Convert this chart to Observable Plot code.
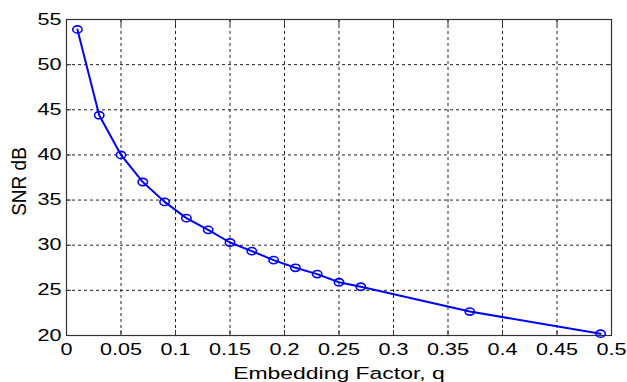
<!DOCTYPE html>
<html><head><meta charset="utf-8">
<script src="https://cdn.jsdelivr.net/npm/d3@7"></script>
<script src="https://cdn.jsdelivr.net/npm/@observablehq/plot@0.6"></script>
<style>body{margin:0;background:#fff} svg{display:block}</style>
</head><body><div id="chart"></div>
<script>
const q = [0.01, 0.03, 0.05, 0.07, 0.09, 0.11, 0.13, 0.15, 0.17, 0.19, 0.21, 0.23, 0.25, 0.27, 0.37, 0.49];
const snr = [53.9, 44.4, 40.0, 37.0, 34.8, 33.0, 31.7, 30.3, 29.35, 28.35, 27.5, 26.8, 25.9, 25.4, 22.65, 20.2];
const xTicks = [0, 0.05, 0.1, 0.15, 0.2, 0.25, 0.3, 0.35, 0.4, 0.45, 0.5];
const yTicks = [20, 25, 30, 35, 40, 45, 50, 55];
const xLabel = "Embedding Factor, q";
const yLabel = "SNR dB";

const data = q.map((x, i) => ({q: x, snr: snr[i]}));
const gridStyle = {stroke: "#222", strokeOpacity: 1, strokeWidth: 1, strokeDasharray: "3,3"};
const noText = () => "";

const chart = Plot.plot({
  width: 627, height: 382,
  marginLeft: 66, marginRight: 16, marginTop: 19, marginBottom: 47,
  style: {fontFamily: "Liberation Sans, Arial, sans-serif", fontSize: "16px", color: "#000", background: "#fff"},
  x: {domain: [0, 0.5]},
  y: {domain: [20, 55]},
  marks: [
    Plot.gridX(xTicks, gridStyle),
    Plot.gridY(yTicks, gridStyle),
    Plot.axisX(xTicks, {anchor: "bottom", tickSize: -5, tickFormat: noText, label: null, stroke: "#333"}),
    Plot.axisX(xTicks, {anchor: "top", tickSize: -5, tickFormat: noText, label: null, stroke: "#333"}),
    Plot.axisY(yTicks, {anchor: "left", tickSize: -5, tickFormat: noText, label: null, stroke: "#333"}),
    Plot.axisY(yTicks, {anchor: "right", tickSize: -5, tickFormat: noText, label: null, stroke: "#333"}),
    Plot.frame({stroke: "#333", strokeWidth: 1.2}),
    Plot.axisX(xTicks, {tickSize: 0, tickPadding: 8, tickFormat: d => `${d}`, label: null, fontSize: 16}),
    Plot.axisY(yTicks, {tickSize: 0, tickPadding: 5, tickFormat: d => `${d}`, label: null, fontSize: 16}),
    Plot.text([xLabel], {frameAnchor: "bottom", dy: 38, textAnchor: "middle", lineAnchor: "middle", fontSize: 17, text: d => d}),
    Plot.text([yLabel], {frameAnchor: "left", dx: -47, dy: 4, rotate: -90, textAnchor: "middle", lineAnchor: "middle", fontSize: 17, text: d => d}),
    Plot.line(data, {x: "q", y: "snr", stroke: "#0000ff", strokeWidth: 2}),
    Plot.dot(data, {x: "q", y: "snr", r: 3.6, stroke: "#0000ff", strokeWidth: 1.6, fill: "none"})
  ]
});
document.getElementById("chart").appendChild(chart);

// horizontally stretch glyphs as in the reference
chart.querySelectorAll("text").forEach(t => {
  let tr = t.getAttribute("transform");
  if (!tr) {
    const x = t.getAttribute("x") || 0, y = t.getAttribute("y") || 0;
    t.removeAttribute("x"); t.removeAttribute("y");
    tr = `translate(${x},${y})`;
  }
  t.setAttribute("transform", tr + (tr.includes("rotate") ? " scale(1.12,1.15)" : " scale(1.35,1)"));
});
// slightly wide circle markers
chart.querySelectorAll("circle").forEach(c => {
  const cx = +c.getAttribute("cx") || 0, cy = +c.getAttribute("cy") || 0;
  const tr = c.getAttribute("transform") || "";
  c.setAttribute("transform", `${tr} translate(${cx},${cy}) scale(1.3,1) translate(${-cx},${-cy})`);
  c.setAttribute("vector-effect", "non-scaling-stroke");
});
</script>
</body></html>
